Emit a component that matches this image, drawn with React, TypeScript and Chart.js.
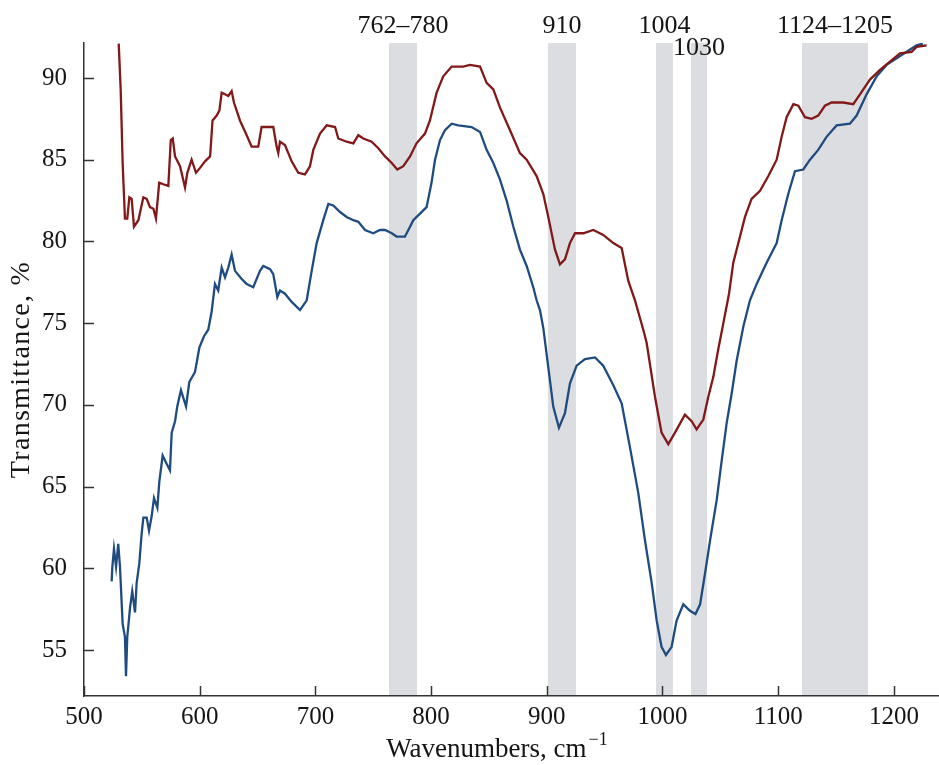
import { useEffect, useRef } from 'react';
import { Chart, registerables } from 'chart.js';

Chart.register(...registerables);

// ---- Axis ticks ----
const xTicks = [500, 600, 700, 800, 900, 1000, 1100, 1200];
const yTicks = [55, 60, 65, 70, 75, 80, 85, 90];
const X_MIN = 500;
const X_MAX = 1239;
const Y_MIN = 52.19;
const Y_MAX = 92.14;

// ---- Red (upper) spectrum ----
const redWavenumbers = [
  530, 531.7, 533.4, 535.4, 537.4, 539.2, 541.2, 543.2, 547, 551.3, 554.2, 557, 560, 562.2, 565, 568.5,
  572.9, 575, 576.7, 578.7, 583, 587.3, 589.3, 593, 596.8, 600.3, 604.6, 609, 611.1, 614.7, 617, 619,
  621.9, 624.7, 627.6, 629.6, 634.8, 640.6, 644.9, 650.6, 653.5, 657.9, 663.6, 666.5, 667.9, 669.4,
  673.7, 679.5, 685.2, 691, 695.3, 698.2, 704, 709.8, 717, 719.8, 727, 732.8, 737.1, 741.4, 748.6,
  754.4, 760.2, 766, 770.8, 776, 781.8, 787.4, 794.7, 799, 804.8, 810.5, 817.8, 827.8, 833.6, 842.3,
  848, 853.8, 859.5, 868.2, 876.8, 882.6, 891.2, 897, 901.3, 907.1, 911.4, 915.7, 920, 924.4, 931.6,
  940.2, 948.8, 957.5, 964.7, 970.4, 976.2, 983.4, 986.3, 993.5, 999.2, 1005, 1010.8, 1019.4, 1025.2,
  1029.5, 1035.3, 1039.6, 1043.9, 1048.2, 1052.6, 1057.5, 1061.2, 1067, 1071.3, 1077, 1084.3, 1091.5,
  1098.7, 1103, 1107.3, 1113.1, 1117.4, 1123.2, 1128.9, 1134.6, 1140.4, 1146.2, 1156.2, 1164.9, 1170.7,
  1179.3, 1188, 1196.6, 1205.3, 1215.3, 1219.6, 1228.3,
];
const redTransmittance = [
  92.1, 89.3, 84.8, 81.4, 81.4, 82.7, 82.6, 80.9, 81.3, 82.7, 82.6, 82.1, 82.0, 81.4, 83.6, 83.5,
  83.4, 86.2, 86.3, 85.2, 84.6, 83.3, 84.2, 85.0, 84.2, 84.5, 84.9, 85.2, 87.4, 87.7, 88.0, 89.1,
  89.0, 88.9, 89.2, 88.5, 87.4, 86.5, 85.8, 85.8, 87.0, 87.0, 87.0, 85.8, 85.4, 86.1,
  85.9, 84.9, 84.2, 84.1, 84.6, 85.6, 86.6, 87.1, 87.0, 86.3, 86.1, 86.0, 86.5, 86.3, 86.1,
  85.7, 85.2, 84.8, 84.4, 84.6, 85.2, 86.0, 86.6, 87.4, 89.1, 90.1, 90.7, 90.7, 90.8, 90.7,
  89.7, 89.3, 88.2, 86.8, 85.4, 85.0, 84.0, 82.9, 81.5, 79.5, 78.6, 78.9, 79.9, 80.5, 80.5,
  80.7, 80.4, 79.9, 79.6, 77.6, 76.4, 74.6, 73.8, 70.5, 68.3, 67.6, 68.3, 69.4, 69.0,
  68.5, 69.1, 70.5, 71.7, 73.4, 75.0, 76.8, 78.7, 80.3, 81.5, 82.6, 83.1, 84.0,
  85.0, 86.4, 87.6, 88.4, 88.3, 87.6, 87.5, 87.7, 88.3, 88.5, 88.5, 88.4, 89.0,
  89.9, 90.5, 91.0, 91.5, 91.6, 91.9, 92.0,
];

// ---- Blue (lower) spectrum ----
const blueWavenumbers = [
  523.9, 524.5, 525.9, 527.7, 529.6, 531.1, 533.4, 535.4, 536.3, 537.4, 539.8, 541.7, 544.1, 545.5,
  547.8, 549.8, 551.3, 554.2, 556.2, 558.5, 560.5, 563.4, 565.1, 568, 571.4, 574.3, 575.8, 578.7,
  580.6, 583.8, 588.2, 591, 595.9, 599.7, 603.7, 607.4, 610.3, 613.2, 616, 619, 621.9, 624.7, 627.6,
  630.5, 636.3, 640.6, 646.3, 652.1, 655, 660.8, 663.6, 667.1, 669.4, 673.7, 679.5, 686.7, 692.5,
  696.8, 701.1, 706.8, 711.2, 715.5, 721.3, 727, 732.8, 737.1, 742.9, 750, 755.8, 760.2, 766, 770.2,
  777.4, 781.8, 784.6, 790.4, 796.1, 800.4, 803.4, 807.7, 812, 817.8, 823.5, 835, 842.3, 848, 853.8,
  859.5, 865.3, 871.1, 876.8, 882.6, 888.3, 891.2, 894.1, 897, 901.3, 905.6, 910.5, 915.7, 920, 925.8,
  933, 941.7, 948.8, 957.5, 964.7, 971.9, 979.1, 984.9, 990.7, 995, 999.2, 1003, 1007.9, 1012.2, 1018,
  1023.8, 1028.5, 1032.5, 1036.8, 1041.1, 1046.9, 1051.2, 1055.5, 1059.8, 1064.1, 1069.9, 1075.6,
  1081.4, 1090, 1098.7, 1103, 1108.7, 1114.5, 1121.7, 1127.5, 1134.6, 1141.8, 1150.5, 1162, 1167.8,
  1176.4, 1185.1, 1193.7, 1202.4, 1211, 1219.6, 1225,
];
const blueTransmittance = [
  59.2, 60.1, 61.2, 60.1, 61.5, 60.1, 56.6, 55.8, 53.4, 55.8, 57.6, 58.6, 57.3, 59.1,
  60.3, 62.1, 63.1, 63.1, 62.3, 63.2, 64.3, 63.7, 65.3, 66.9, 66.4, 66.0, 68.3, 69.0,
  69.9, 70.9, 69.9, 71.4, 72.0, 73.5, 74.2, 74.6, 75.7, 77.4, 77.0, 78.4, 77.8, 78.4, 79.2,
  78.2, 77.7, 77.4, 77.2, 78.2, 78.5, 78.3, 78.0, 76.6, 77.0, 76.8, 76.3, 75.8, 76.4,
  78.2, 79.9, 81.3, 82.3, 82.2, 81.8, 81.5, 81.3, 81.2, 80.7, 80.5, 80.7, 80.7, 80.5, 80.3,
  80.3, 80.9, 81.3, 81.7, 82.1, 83.6, 85.0, 86.2, 86.8, 87.2, 87.1, 87.0, 86.7, 85.6, 84.8,
  83.8, 82.5, 80.9, 79.5, 78.5, 77.2, 76.4, 75.8, 74.7, 72.3, 69.9, 68.6, 69.5, 71.3, 72.4,
  72.8, 72.9, 72.4, 71.2, 70.1, 67.4, 64.6, 61.7, 59.1, 56.8, 55.2, 54.7, 55.2, 56.8, 57.8,
  57.4, 57.2, 57.8, 59.7, 61.7, 64.2, 66.6, 68.9, 70.7, 72.7, 74.8, 76.4,
  77.4, 78.7, 79.9, 81.3, 82.9, 84.3, 84.4, 85.0, 85.6, 86.4, 87.1, 87.2, 87.7,
  89.0, 90.1, 90.8, 91.2, 91.6, 92.0, 92.1,
];

// ---- Highlighted bands ----
const bandStarts = [763.6, 901, 994.4, 1024.6, 1120.6];
const bandEnds = [787.8, 925.2, 1009, 1038.5, 1177.6];
const bandLabels = ['762\u2013780', '910', '1004', '1030', '1124\u20131205'];
const bandLabelRows = [0, 0, 0, 1, 0];

const FONT_FAMILY = '"Liberation Serif", "DejaVu Serif", serif';
const AXIS_COLOR = '#333333';
const TEXT_COLOR = '#151515';
const BAND_COLOR = '#dcdde0';
const RED = '#821818';
const BLUE = '#1f4c80';

const toPoints = (xs: number[], ys: number[]) => xs.map((x, i) => ({ x, y: ys[i] }));

const decorPlugin = {
  id: 'decor',
  beforeDraw(chart: any) {
    const { ctx, chartArea, scales } = chart;
    const xs = scales.x;
    ctx.save();
    ctx.fillStyle = BAND_COLOR;
    bandStarts.forEach((s, i) => {
      const x1 = xs.getPixelForValue(s);
      const x2 = xs.getPixelForValue(bandEnds[i]);
      ctx.fillRect(x1, chartArea.top, x2 - x1, chartArea.bottom - chartArea.top);
    });
    ctx.restore();
  },
  afterDraw(chart: any) {
    const { ctx, chartArea, scales } = chart;
    const xs = scales.x;
    const ys = scales.y;
    ctx.save();
    // inward ticks
    ctx.strokeStyle = AXIS_COLOR;
    ctx.lineWidth = 1.5;
    const tickLen = 10;
    xTicks.forEach((v) => {
      const px = Math.round(xs.getPixelForValue(v)) + 0.5;
      ctx.beginPath();
      ctx.moveTo(px, chartArea.bottom);
      ctx.lineTo(px, chartArea.bottom - tickLen);
      ctx.stroke();
    });
    yTicks.forEach((v) => {
      const py = Math.round(ys.getPixelForValue(v)) + 0.5;
      ctx.beginPath();
      ctx.moveTo(chartArea.left, py);
      ctx.lineTo(chartArea.left + tickLen, py);
      ctx.stroke();
    });

    // band labels
    ctx.fillStyle = TEXT_COLOR;
    ctx.font = `26px ${FONT_FAMILY}`;
    ctx.textAlign = 'center';
    ctx.textBaseline = 'middle';
    bandLabels.forEach((label, i) => {
      const cx = xs.getPixelForValue((bandStarts[i] + bandEnds[i]) / 2);
      const cy = bandLabelRows[i] === 0 ? 26 : 48;
      ctx.fillText(label, cx, cy);
    });

    // y title
    ctx.save();
    ctx.font = `28px ${FONT_FAMILY}`;
    (ctx as any).letterSpacing = '1.3px';
    ctx.translate(22, (chartArea.top + chartArea.bottom) / 2);
    ctx.rotate(-Math.PI / 2);
    ctx.textAlign = 'center';
    ctx.textBaseline = 'middle';
    ctx.fillText('Transmittance, %', 0, 0);
    ctx.restore();

    // x title with superscript
    const main = 'Wavenumbers, cm';
    const sup = '\u22121';
    ctx.font = `27px ${FONT_FAMILY}`;
    const wMain = ctx.measureText(main).width;
    ctx.font = `18px ${FONT_FAMILY}`;
    const wSup = ctx.measureText(sup).width;
    const total = wMain + 2 + wSup;
    const startX = chartArea.left + 413 - total / 2;
    ctx.textAlign = 'left';
    ctx.textBaseline = 'alphabetic';
    ctx.font = `27px ${FONT_FAMILY}`;
    ctx.fillText(main, startX, 757);
    ctx.font = `18px ${FONT_FAMILY}`;
    ctx.fillText(sup, startX + wMain + 2, 745);
    ctx.restore();
  },
};

export default function App() {
  const canvasRef = useRef<HTMLCanvasElement | null>(null);

  useEffect(() => {
    document.body.style.margin = '0';
    const canvas = canvasRef.current;
    if (!canvas) return;
    const tickFont = { family: FONT_FAMILY, size: 25 };
    const chart = new Chart(canvas, {
      type: 'line',
      data: {
        datasets: [
          {
            label: 'red',
            data: toPoints(redWavenumbers, redTransmittance),
            borderColor: RED,
            borderWidth: 2.3,
            pointRadius: 0,
            tension: 0,
            fill: false,
          },
          {
            label: 'blue',
            data: toPoints(blueWavenumbers, blueTransmittance),
            borderColor: BLUE,
            borderWidth: 2.3,
            pointRadius: 0,
            tension: 0,
            fill: false,
          },
        ],
      },
      options: {
        animation: false,
        responsive: false,
        devicePixelRatio: 1,
        layout: { padding: { top: 43, right: 0, bottom: 0, left: 0 } },
        plugins: {
          legend: { display: false },
          tooltip: { enabled: false },
        },
        scales: {
          x: {
            type: 'linear',
            min: X_MIN,
            max: X_MAX,
            grid: { display: false },
            border: { display: true, color: AXIS_COLOR, width: 1.5 },
            ticks: {
              font: tickFont,
              color: TEXT_COLOR,
              padding: -2,
              autoSkip: false,
              maxRotation: 0,
              callback: (v: any) => String(v),
            },
            afterBuildTicks: (s: any) => {
              s.ticks = xTicks.map((v) => ({ value: v }));
            },
            afterFit: (s: any) => {
              s.height = 69;
              s.paddingLeft = 0;
              s.paddingRight = 0;
            },
          },
          y: {
            type: 'linear',
            min: Y_MIN,
            max: Y_MAX,
            grid: { display: false },
            border: { display: true, color: AXIS_COLOR, width: 1.5 },
            ticks: { font: tickFont, color: TEXT_COLOR, padding: 9, callback: (v: any) => String(v) },
            afterBuildTicks: (s: any) => {
              s.ticks = yTicks.map((v) => ({ value: v }));
            },
            afterFit: (s: any) => {
              s.width = 84;
              s.paddingTop = 0;
              s.paddingBottom = 0;
            },
          },
        },
      },
      plugins: [decorPlugin],
    });
    return () => chart.destroy();
  }, []);

  return (
    <div style={{ position: 'absolute', left: 0, top: 0, width: 939, height: 765 }}>
      <canvas ref={canvasRef} width={939} height={765} />
    </div>
  );
}
